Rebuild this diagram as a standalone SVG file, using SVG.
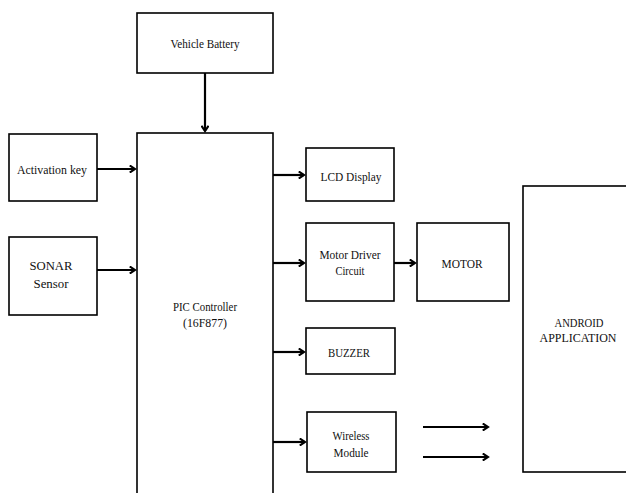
<svg xmlns="http://www.w3.org/2000/svg" width="626" height="493" viewBox="0 0 626 493">
<defs>
<marker id="ah" viewBox="0 0 10 10" refX="8" refY="5" markerWidth="4" markerHeight="4" markerUnits="strokeWidth" orient="auto">
<path d="M2,1 L8,5 L2,9" fill="none" stroke="#000" stroke-width="2.4"/>
</marker>
</defs>
<style>
.box{fill:#fff;stroke:#000;stroke-width:1.6}
.t{font-family:"Liberation Serif","Times New Roman",serif;font-size:13.5px;fill:#111;text-anchor:middle}
.c{fill:none;stroke:#000;stroke-width:2.2;marker-end:url(#ah)}
</style>
<rect width="626" height="493" fill="#fff"/>
<g id="battery"><rect class="box" x="137" y="13" width="136" height="60"/><text class="t" x="205" y="48" textLength="69" lengthAdjust="spacingAndGlyphs">Vehicle  Battery</text></g>
<g id="pic"><rect class="box" x="137" y="133" width="136" height="370"/><text class="t" x="205" y="311" textLength="64" lengthAdjust="spacingAndGlyphs">PIC Controller</text><text class="t" x="205" y="327" textLength="44" lengthAdjust="spacingAndGlyphs">(16F877)</text></g>
<g id="activation"><rect class="box" x="9" y="134" width="88" height="67"/><text class="t" x="52" y="174" textLength="70" lengthAdjust="spacingAndGlyphs">Activation  key</text></g>
<g id="sonar"><rect class="box" x="9" y="237" width="88" height="78"/><text class="t" x="51" y="270" textLength="43" lengthAdjust="spacingAndGlyphs">SONAR</text><text class="t" x="51" y="288" textLength="35" lengthAdjust="spacingAndGlyphs">Sensor</text></g>
<g id="lcd"><rect class="box" x="306" y="148" width="88" height="53"/><text class="t" x="351" y="181" textLength="61" lengthAdjust="spacingAndGlyphs">LCD Display</text></g>
<g id="motordriver"><rect class="box" x="306" y="223" width="88" height="78"/><text class="t" x="350" y="259" textLength="61" lengthAdjust="spacingAndGlyphs">Motor Driver</text><text class="t" x="350" y="275" textLength="29" lengthAdjust="spacingAndGlyphs">Circuit</text></g>
<g id="motor"><rect class="box" x="417" y="223" width="92" height="78"/><text class="t" x="462" y="268" textLength="41" lengthAdjust="spacingAndGlyphs">MOTOR</text></g>
<g id="buzzer"><rect class="box" x="306" y="328" width="89" height="46"/><text class="t" x="349" y="357" textLength="42" lengthAdjust="spacingAndGlyphs">BUZZER</text></g>
<g id="wireless"><rect class="box" x="307" y="412" width="89" height="60"/><text class="t" x="351" y="440" textLength="37" lengthAdjust="spacingAndGlyphs">Wireless</text><text class="t" x="351" y="457" textLength="35" lengthAdjust="spacingAndGlyphs">Module</text></g>
<g id="android"><rect class="box" x="523" y="186" width="106" height="286"/><text class="t" x="579" y="327" textLength="49" lengthAdjust="spacingAndGlyphs">ANDROID</text><text class="t" x="578" y="342" textLength="77" lengthAdjust="spacingAndGlyphs">APPLICATION</text></g>
<g id="connectors">
<line class="c" x1="205" y1="73" x2="205" y2="131"/>
<line class="c" x1="97" y1="169" x2="135" y2="169"/>
<line class="c" x1="97" y1="270" x2="135" y2="270"/>
<line class="c" x1="273" y1="175" x2="304" y2="175"/>
<line class="c" x1="273" y1="263" x2="304" y2="263"/>
<line class="c" x1="394" y1="263" x2="415" y2="263"/>
<line class="c" x1="273" y1="352" x2="304" y2="352"/>
<line class="c" x1="273" y1="442" x2="305" y2="442"/>
<line class="c" x1="423" y1="427" x2="488" y2="427"/>
<line class="c" x1="423" y1="457" x2="488" y2="457"/>
</g>
</svg>
